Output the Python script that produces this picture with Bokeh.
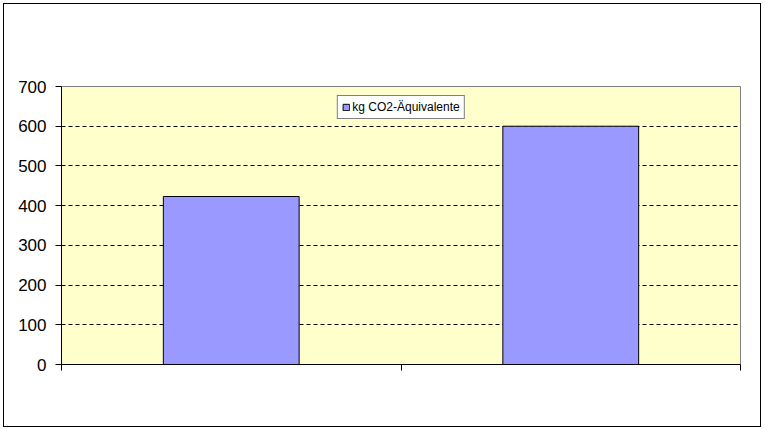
from bokeh.plotting import figure
from bokeh.models import FixedTicker, Range1d, ColumnDataSource, Legend, LegendItem
from bokeh.embed import file_html
from bokeh.resources import INLINE

# Data
categories = ["A", "B"]
values = [423, 600]
series_name = "kg CO2-Äquivalente"
y_ticks = [0, 100, 200, 300, 400, 500, 600, 700]
grid_ticks = [100, 200, 300, 400, 500, 600]

x_pos = [i + 0.5 for i in range(len(categories))]
source = ColumnDataSource(data=dict(x=x_pos, top=values, cat=categories))

p = figure(width=758, height=424, output_backend="svg", toolbar_location=None,
           x_range=Range1d(0, len(categories)), y_range=Range1d(0, 700),
           min_border_left=57, min_border_right=22, min_border_top=82, min_border_bottom=64,
           background_fill_color="#FFFFCC", border_fill_color="white",
           outline_line_color="#808080", outline_line_width=1,
           margin=(3, 0, 0, 3),
           styles={"border": "1px solid black", "box-sizing": "border-box"})

r = p.vbar(x="x", top="top", width=0.4, bottom=0, source=source,
           fill_color="#9999FF", line_color="black", line_width=1)

# y axis
p.yaxis.ticker = FixedTicker(ticks=y_ticks)
p.yaxis.major_label_text_font = "Liberation Sans"
p.yaxis.major_label_text_font_size = "17px"
p.yaxis.major_label_text_color = "black"
p.yaxis.major_tick_out = 6
p.yaxis.major_tick_in = 0
p.yaxis.minor_tick_out = 0
p.yaxis.minor_tick_in = 0
p.yaxis.major_label_standoff = 9
p.yaxis.axis_line_color = "black"
p.yaxis.major_tick_line_color = "black"

# x axis: ticks at category boundaries, no labels
p.xaxis.ticker = FixedTicker(ticks=list(range(len(categories) + 1)))
p.xaxis.major_label_overrides = {i: "" for i in range(len(categories) + 1)}
p.xaxis.major_tick_out = 6
p.xaxis.major_tick_in = 0
p.xaxis.minor_tick_out = 0
p.xaxis.minor_tick_in = 0
p.xaxis.axis_line_color = "black"
p.xaxis.major_tick_line_color = "black"

# grid
p.xgrid.visible = False
p.ygrid.ticker = FixedTicker(ticks=grid_ticks)
p.ygrid.grid_line_color = "black"
p.ygrid.grid_line_dash = "4 3"
p.ygrid.grid_line_width = 1

legend = Legend(items=[LegendItem(label=series_name, renderers=[r])],
                location="top_center", orientation="horizontal",
                label_text_font="Liberation Sans", label_text_font_size="12px",
                label_text_color="black",
                glyph_width=8, glyph_height=8, label_standoff=3,
                padding=4, margin=9, spacing=0,
                border_line_color="black", border_line_width=1,
                background_fill_color="white", background_fill_alpha=1,
                label_height=12)
p.add_layout(legend, "center")

open("out.html", "w").write(file_html(p, INLINE))
